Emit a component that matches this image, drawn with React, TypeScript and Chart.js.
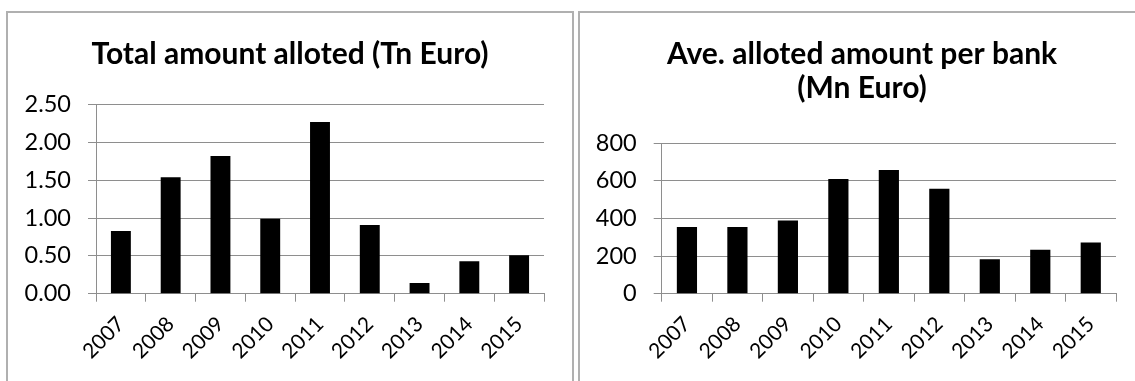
import React, { useEffect, useRef } from "react";
import { Chart, registerables } from "chart.js";

Chart.register(...registerables);

// Years on the category axis (shared by both panels)
const years = ["2007", "2008", "2009", "2010", "2011", "2012", "2013", "2014", "2015"];

// Total amount alloted, trillions of euro
const totalAlloted = [0.83, 1.54, 1.82, 0.99, 2.27, 0.91, 0.14, 0.43, 0.51];

// Average alloted amount per bank, millions of euro
const avgPerBank = [355, 355, 390, 610, 658, 558, 183, 234, 273];

const totalTitle = ["Total amount alloted (Tn Euro)"];
const avgTitle = ["Ave. alloted amount per bank", "(Mn Euro)"];

const FONT = "Lato, 'Open Sans', sans-serif";
const GRID = "#8e8e8e";

// Centre the title across the whole canvas rather than the padded layout box
const centreTitle = {
  id: "centreTitle",
  afterLayout(chart: any) {
    const t = chart.titleBlock;
    if (t) {
      t.left = 0;
      t.right = chart.width;
      t.width = chart.width;
    }
  },
};

type PanelProps = {
  title: string[];
  values: number[];
  yMax: number;
  yStep: number;
  decimals: number;
  axisWidth: number;
  titleBottom: number;
};

function Panel({ title, values, yMax, yStep, decimals, axisWidth, titleBottom }: PanelProps) {
  const ref = useRef<HTMLCanvasElement | null>(null);

  useEffect(() => {
    if (!ref.current) return;
    const chart = new Chart(ref.current, {
      type: "bar",
      data: {
        labels: years,
        datasets: [
          {
            data: values,
            backgroundColor: "#000000",
            borderWidth: 0,
            barPercentage: 0.4,
            categoryPercentage: 1,
          },
        ],
      },
      plugins: [centreTitle],
      options: {
        responsive: false,
        animation: false,
        devicePixelRatio: 1,
        layout: { padding: { left: 0, right: 28, top: 0, bottom: 0 } },
        plugins: {
          legend: { display: false },
          tooltip: { enabled: false },
          title: {
            display: true,
            text: title,
            color: "#000000",
            font: { family: FONT, size: 30, weight: "bold", lineHeight: 34 / 30 },
            padding: { top: 24, bottom: titleBottom },
          },
        },
        scales: {
          x: {
            grid: {
              display: true,
              drawOnChartArea: false,
              drawTicks: true,
              tickLength: 8,
              offset: true,
              color: GRID,
            },
            border: { display: true, color: GRID, width: 1 },
            ticks: {
              color: "#000000",
              font: { family: FONT, size: 21 },
              minRotation: 45,
              maxRotation: 45,
              padding: 10,
              autoSkip: false,
            },
            afterFit: (scale: any) => {
              scale.height = 87.3;
            },
          },
          y: {
            min: 0,
            max: yMax,
            grid: {
              display: true,
              drawTicks: true,
              tickLength: 8,
              color: GRID,
            },
            border: { display: true, color: GRID, width: 1 },
            ticks: {
              stepSize: yStep,
              color: "#000000",
              font: { family: FONT, size: 23.5 },
              padding: 17,
              callback: (v: any) => Number(v).toFixed(decimals),
            },
            afterFit: (scale: any) => {
              scale.width = axisWidth;
            },
          },
        },
      },
    });
    return () => chart.destroy();
  }, [title, values, yMax, yStep, decimals, axisWidth, titleBottom]);

  return <canvas ref={ref} width={564} height={368} style={{ display: "block" }} />;
}

const boxStyle = (left: number): React.CSSProperties => ({
  position: "absolute",
  left,
  top: 11,
  width: 568,
  height: 400,
  boxSizing: "border-box",
  border: "2px solid #b0b0b0",
  background: "#ffffff",
});

export default function App() {
  return (
    <div
      style={{
        position: "absolute",
        left: 0,
        top: 0,
        width: 1135,
        height: 381,
        overflow: "hidden",
        background: "#ffffff",
      }}
    >
      <div style={boxStyle(6)}>
        <Panel
          title={totalTitle}
          values={totalAlloted}
          yMax={2.5}
          yStep={0.5}
          decimals={2}
          axisWidth={88}
          titleBottom={33.7}
        />
      </div>
      <div style={boxStyle(578)}>
        <Panel
          title={avgTitle}
          values={avgPerBank}
          yMax={800}
          yStep={200}
          decimals={0}
          axisWidth={81.7}
          titleBottom={38.3}
        />
      </div>
    </div>
  );
}
